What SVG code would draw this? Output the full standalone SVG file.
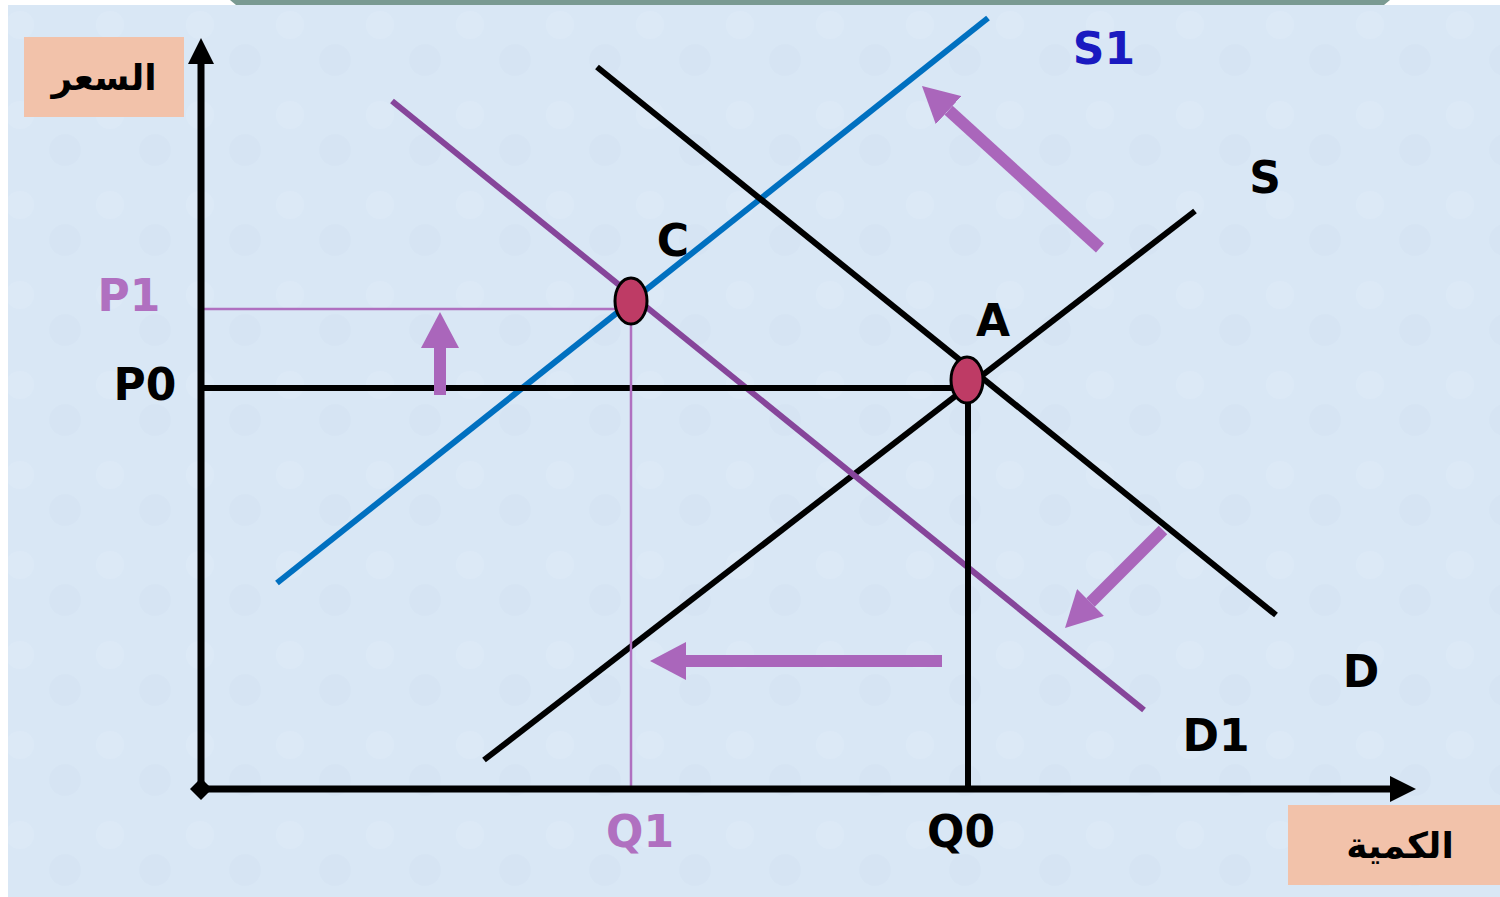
<svg xmlns="http://www.w3.org/2000/svg" width="1500" height="897" viewBox="0 0 1500 897">
<defs>
<style>
.lbl{font-family:"DejaVu Sans",Verdana,sans-serif;font-weight:bold;font-size:44px;}
.ar{font-family:"DejaVu Sans",sans-serif;font-weight:bold;font-size:36px;}
.axis{stroke:#000;stroke-width:7;fill:none;}
.blk{stroke:#000;stroke-width:6;fill:none;}
.thin{stroke:#b070c0;stroke-width:2.5;fill:none;}
.move{stroke:#aa66bb;stroke-width:12;fill:none;marker-end:url(#ah);}
.pt{fill:#be3b65;stroke:#000;stroke-width:3;}
.box{fill:#f2c2aa;}
</style>
<marker id="ah" markerUnits="userSpaceOnUse" markerWidth="36" markerHeight="38" refX="0" refY="19" orient="auto" viewBox="0 0 36 38">
<path d="M0,0 L36,19 L0,38 z" fill="#aa66bb"/>
</marker>
<marker id="axh" markerUnits="userSpaceOnUse" markerWidth="26" markerHeight="26" refX="0" refY="13" orient="auto" viewBox="0 0 26 26">
<path d="M0,0 L26,13 L0,26 z" fill="#000"/>
</marker>
<pattern id="tex" width="90" height="90" patternUnits="userSpaceOnUse">
<rect width="90" height="90" fill="#d9e7f5"/>
<circle cx="20" cy="25" r="14" fill="#e0ecf8" opacity="0.5"/>
<circle cx="65" cy="60" r="16" fill="#d3e2f2" opacity="0.5"/>
</pattern>
</defs>
<rect width="1500" height="897" fill="#ffffff"/>
<rect x="8" y="5" width="1492" height="892" fill="url(#tex)"/>
<path d="M230,0 L1390,0 L1384,5 L236,5 z" fill="#7a9a92"/>

<g id="connectors">
<line id="S1-line" x1="277" y1="583" x2="988" y2="18" stroke="#0070c0" stroke-width="6"/>
<line id="D-line" x1="597" y1="67" x2="1276" y2="615" class="blk"/>
<line id="S-line" x1="484" y1="760" x2="1195" y2="211" class="blk"/>
<line id="D1-line" x1="392" y1="101" x2="1144" y2="710" stroke="#86459a" stroke-width="6"/>
<line id="P0-line" x1="201" y1="388" x2="968" y2="388" class="blk"/>
<line id="Q0-line" x1="968" y1="388" x2="968" y2="789" class="blk"/>
<line id="P1-line" x1="201" y1="309" x2="631" y2="309" class="thin"/>
<line id="Q1-line" x1="631" y1="309" x2="631" y2="789" class="thin"/>
<line id="y-axis" x1="201" y1="789" x2="201" y2="64" class="axis" marker-end="url(#axh)"/>
<line id="x-axis" x1="201" y1="789" x2="1390" y2="789" class="axis" marker-end="url(#axh)"/>
<path d="M201,778 L212,789 L201,800 L190,789 z" fill="#000"/>
<line class="move" x1="440" y1="395" x2="440" y2="348"/>
<line class="move" x1="1100" y1="248" x2="948.6" y2="110.2"/>
<line class="move" x1="1163" y1="530" x2="1090.5" y2="602.5"/>
<line class="move" x1="942" y1="661" x2="686" y2="661"/>
</g>

<g id="price-label">
<rect class="box" x="24" y="37" width="160" height="80"/>
<text class="ar" x="104" y="90" text-anchor="middle" direction="rtl">السعر</text>
</g>
<g id="quantity-label">
<rect class="box" x="1288" y="805" width="212" height="80"/>
<text class="ar" x="1400" y="858" text-anchor="middle" direction="rtl">الكمية</text>
</g>
<g id="point-C">
<ellipse class="pt" cx="631" cy="301" rx="16" ry="23"/>
<text class="lbl" x="673" y="256" text-anchor="middle">C</text>
</g>
<g id="point-A">
<ellipse class="pt" cx="967" cy="380" rx="16" ry="23"/>
<text class="lbl" x="993" y="336" text-anchor="middle">A</text>
</g>
<g id="labels">
<text class="lbl" x="1104" y="64" text-anchor="middle" fill="#1a1ac0">S1</text>
<text class="lbl" x="1265" y="193" text-anchor="middle">S</text>
<text class="lbl" x="129" y="311" text-anchor="middle" fill="#b070c0">P1</text>
<text class="lbl" x="145" y="400" text-anchor="middle">P0</text>
<text class="lbl" x="640" y="847" text-anchor="middle" fill="#b070c0">Q1</text>
<text class="lbl" x="961" y="847" text-anchor="middle">Q0</text>
<text class="lbl" x="1361" y="687" text-anchor="middle">D</text>
<text class="lbl" x="1216" y="751" text-anchor="middle">D1</text>
</g>
</svg>
